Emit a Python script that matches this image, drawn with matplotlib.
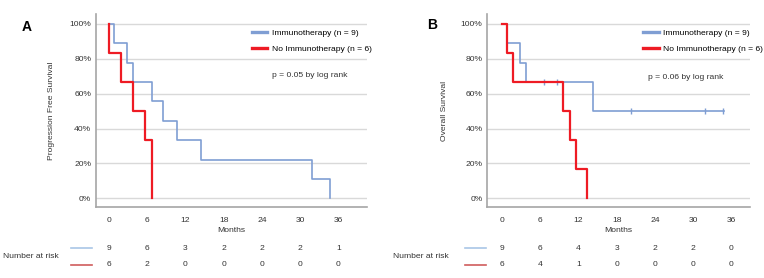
import numpy as np
import matplotlib
matplotlib.use('Agg')
import matplotlib.pyplot as plt

plt.rcParams['font.family'] = ['Liberation Sans', 'DejaVu Sans']
plt.rcParams['font.size'] = 6

# Kaplan-Meier steps (months, survival fraction)
pfs_imm_t = [0, 0.8, 2.8, 3.8, 6.8, 8.5, 10.6, 14.4, 31.9, 34.7]
pfs_imm_s = [1, 0.889, 0.778, 0.667, 0.556, 0.444, 0.333, 0.222, 0.111, 0]
pfs_no_t = [0, 0.05, 1.9, 3.8, 5.65, 6.8]
pfs_no_s = [1, 0.833, 0.667, 0.5, 0.333, 0]

os_imm_t = [0, 0.8, 2.8, 3.7, 14.3, 34.8]
os_imm_s = [1, 0.889, 0.778, 0.667, 0.5, 0.5]
os_imm_cens_t = [6.6, 8.6, 20.2, 31.9, 34.7]
os_imm_cens_s = [0.667, 0.667, 0.5, 0.5, 0.5]
os_no_t = [0, 0.83, 1.8, 9.5, 10.6, 11.6, 13.4]
os_no_s = [1, 0.833, 0.667, 0.5, 0.333, 0.167, 0]

months = [0, 6, 12, 18, 24, 30, 36]
pfs_risk_imm = [9, 6, 3, 2, 2, 2, 1]
pfs_risk_no = [6, 2, 0, 0, 0, 0, 0]
os_risk_imm = [9, 6, 4, 3, 2, 2, 0]
os_risk_no = [6, 4, 1, 0, 0, 0, 0]

blue = '#7f9ed3'
red = '#ee1b24'
grid_c = '#d9d9d9'
spine_c = '#a6a6a6'
txt_c = '#333333'
FS = 6.1

W, H = 764, 278
fig = plt.figure(figsize=(W / 100, H / 100), dpi=100)


def fx(px):
    return px / W


def fy(py):
    return 1 - py / H


def panel(left_px, right_px, xlim, letter, letter_xy, ylab, imm, no, cens,
          risk_imm, risk_no, ptxt, pxy, legx, line_px, nar_x):
    ax = fig.add_axes([fx(left_px), fy(207), fx(right_px - left_px), (207 - 14) / H])
    ax.set_xlim(*xlim)
    ax.set_ylim(-0.05, 1.057)
    for y in [0, 0.2, 0.4, 0.6, 0.8, 1.0]:
        ax.axhline(y, color=grid_c, lw=1, zorder=0)
    for s in ['top', 'right']:
        ax.spines[s].set_visible(False)
    for s in ['left', 'bottom']:
        ax.spines[s].set_color(spine_c)
        ax.spines[s].set_linewidth(1.2)
    ax.set_yticks([0, 0.2, 0.4, 0.6, 0.8, 1.0])
    ax.set_yticklabels(['0%', '20%', '40%', '60%', '80%', '100%'])
    ax.set_xticks(months)
    ax.tick_params(axis='both', length=0, colors=txt_c, labelsize=FS)
    ax.tick_params(axis='y', pad=3.5)
    ax.tick_params(axis='x', pad=7.5)
    ax.set_xlabel('Months', fontsize=FS, color=txt_c, labelpad=1.5)
    ax.set_ylabel(ylab, fontsize=FS, color=txt_c)
    ax.yaxis.set_label_coords(-0.15, 0.5)

    ax.step(imm[0], imm[1], where='post', color=blue, lw=1.2, zorder=3)
    if cens is not None:
        ax.plot(cens[0], cens[1], ls='none', marker='|', ms=5, mew=1,
                color=blue, zorder=3)
    ax.step(no[0], no[1], where='post', color=red, lw=1.6, zorder=4)

    # legend
    h1, = ax.plot([], [], color=blue, lw=2.4)
    h2, = ax.plot([], [], color=red, lw=2.4)
    ax.legend([h1, h2], ['Immunotherapy (n = 9)', 'No Immunotherapy (n = 6)'],
              loc='upper left', bbox_to_anchor=(legx, 0.92), frameon=False,
              fontsize=FS, handlelength=1.8, handletextpad=0.55,
              labelspacing=0.95, borderpad=0, borderaxespad=0)
    ax.text(pxy[0], pxy[1], ptxt, transform=ax.transAxes, fontsize=FS,
            color=txt_c, va='center', ha='left')

    fig.text(fx(letter_xy[0]), fy(letter_xy[1]), letter, fontsize=10,
             fontweight='bold', ha='center', va='center')

    # number at risk table
    fig.text(fx(nar_x), fy(257), 'Number at risk', fontsize=FS, color=txt_c,
             va='center', ha='left')
    fig.add_artist(plt.Line2D([fx(line_px[0]), fx(line_px[1])], [fy(248), fy(248)],
                              color='#a9c6e6', lw=1.2, transform=fig.transFigure))
    fig.add_artist(plt.Line2D([fx(line_px[0]), fx(line_px[1])], [fy(265), fy(265)],
                              color='#cf5c5c', lw=1.2, transform=fig.transFigure))
    for m, a, b in zip(months, risk_imm, risk_no):
        ax.annotate(str(a), xy=(m, fy(248)), xycoords=('data', 'figure fraction'),
                    ha='center', va='center', fontsize=FS, color=txt_c,
                    annotation_clip=False)
        ax.annotate(str(b), xy=(m, fy(265)), xycoords=('data', 'figure fraction'),
                    ha='center', va='center', fontsize=FS, color=txt_c,
                    annotation_clip=False)
    return ax


panel(96, 367, (-2.04, 40.5), 'A', (26.7, 26.7), 'Progression Free Survival',
      (pfs_imm_t, pfs_imm_s), (pfs_no_t, pfs_no_s), None,
      pfs_risk_imm, pfs_risk_no, 'p = 0.05 by log rank', (0.649, 0.679),
      0.575, (71, 92), 3)

panel(487.3, 750, (-2.31, 38.93), 'B', (431.7, 25), 'Overall Survival',
      (os_imm_t, os_imm_s), (os_no_t, os_no_s), (os_imm_cens_t, os_imm_cens_s),
      os_risk_imm, os_risk_no, 'p = 0.06 by log rank', (0.611, 0.67),
      0.594, (465, 486), 392.7)

fig.savefig('out.png', dpi=100)
